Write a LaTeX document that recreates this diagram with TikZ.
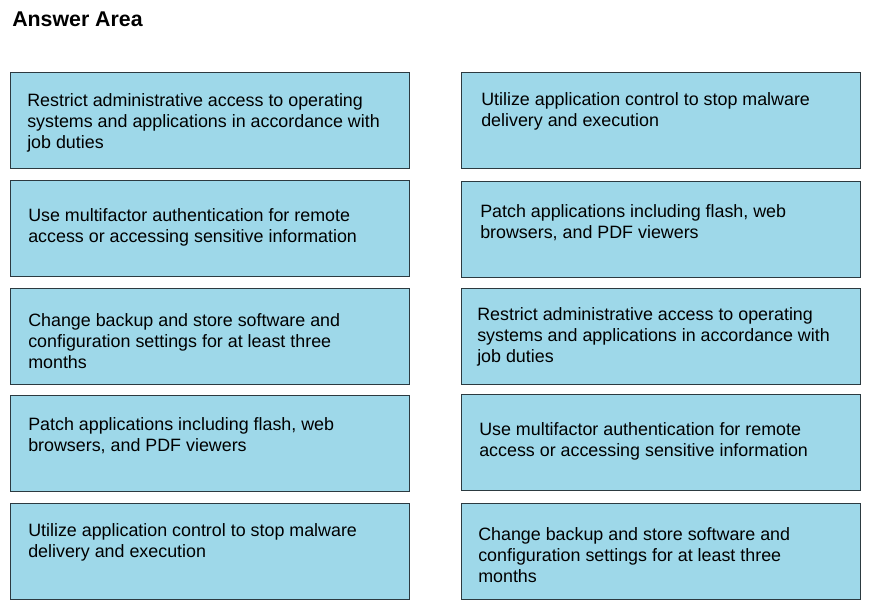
\documentclass[tikz,border=0pt]{standalone}
\usepackage{fontspec}
\setmainfont{Liberation Sans}
\usepackage{tikz}
\usetikzlibrary{positioning}
\definecolor{boxfill}{RGB}{158,216,233}
\definecolor{boxline}{RGB}{44,58,64}
\newcommand*{\answerfont}{\fontsize{13.4}{15.75}\selectfont}
\tikzset{
 answerbox/.style={draw=boxline, fill=boxfill, line width=0.9pt, rectangle, anchor=north west, inner sep=0pt, minimum width=299.25pt, minimum height=72pt},
 answertext/.style={anchor=north west, align=left, inner sep=0pt, font=\answerfont, text=black}
}

\begin{document}
\begin{tikzpicture}[x=0.75pt, y=-0.75pt]
 \useasboundingbox (0,0) rectangle (876,610);
 \node[anchor=base west, inner sep=0pt, font=\bfseries\fontsize{16}{19}\selectfont] (title) at (12,27) {Answer Area};
 % left column
 \node[answerbox] (lBoxA) at (10,72) {};
 \node[answerbox] (lBoxB) at (10,180) {};
 \node[answerbox] (lBoxC) at (10,288) {};
 \node[answerbox] (lBoxD) at (10,395) {};
 \node[answerbox] (lBoxE) at (10,503) {};
 \node[answertext] (lTextA) at (27,93) {Restrict administrative access to operating\\systems and applications in accordance with\\job duties};
 \node[answertext] (lTextB) at (28,208) {Use multifactor authentication for remote\\access or accessing sensitive information};
 \node[answertext] (lTextC) at (28,313) {Change backup and store software and\\configuration settings for at least three\\months};
 \node[answertext] (lTextD) at (28,417) {Patch applications including flash, web\\browsers, and PDF viewers};
 \node[answertext] (lTextE) at (28,523) {Utilize application control to stop malware\\delivery and execution};
 % right column
 \node[answerbox] (rBoxA) at (461,72) {};
 \node[answerbox] (rBoxB) at (461,181) {};
 \node[answerbox] (rBoxC) at (461,288) {};
 \node[answerbox] (rBoxD) at (461,394) {};
 \node[answerbox] (rBoxE) at (461,503) {};
 \node[answertext] (rTextA) at (481,92) {Utilize application control to stop malware\\delivery and execution};
 \node[answertext] (rTextB) at (480,204) {Patch applications including flash, web\\browsers, and PDF viewers};
 \node[answertext] (rTextC) at (477,307) {Restrict administrative access to operating\\systems and applications in accordance with\\job duties};
 \node[answertext] (rTextD) at (479,422) {Use multifactor authentication for remote\\access or accessing sensitive information};
 \node[answertext] (rTextE) at (478,527) {Change backup and store software and\\configuration settings for at least three\\months};
\end{tikzpicture}
\end{document}
